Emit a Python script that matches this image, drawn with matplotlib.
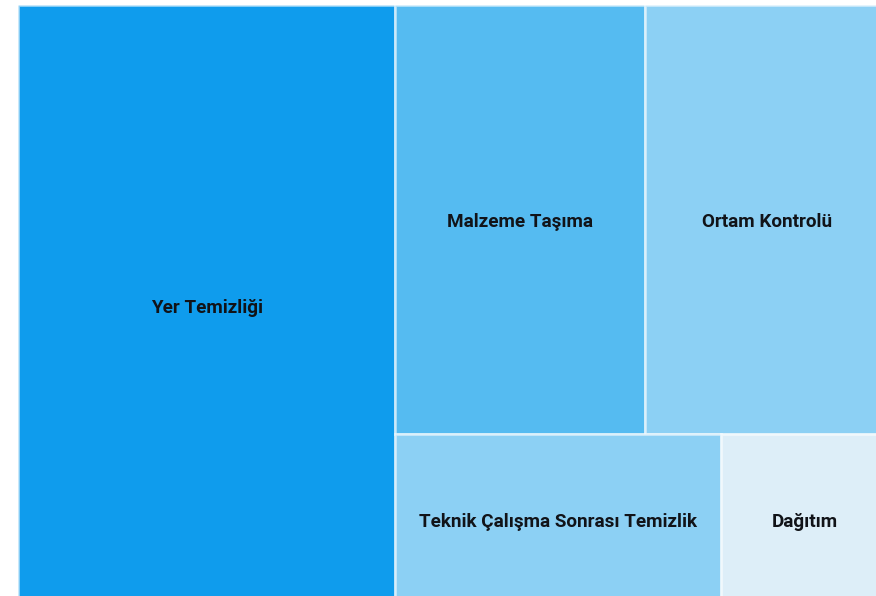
import matplotlib
matplotlib.use("Agg")
import matplotlib.pyplot as plt
from matplotlib.patches import Rectangle

categories = ["Yer Temizliği", "Malzeme Taşıma", "Ortam Kontrolü",
              "Teknik Çalışma Sonrası Temizlik", "Dağıtım"]
values = [43.3, 20.5, 20.0, 10.7, 5.5]
colors = ["#0f9ced", "#55bbf1", "#8cd0f4", "#8cd0f4", "#ddeef8"]

W, H = 871.0, 600.0


def worst(row, length):
    s = sum(row)
    side = s / length
    return max(max(side / (r / side), (r / side) / side) for r in row)


def layout_row(row, x, y, w, h, out):
    s = sum(row)
    if w >= h:
        cw = s / h
        cy = y
        for r in row:
            rh = r / cw
            out.append((x, cy, cw, rh))
            cy += rh
        return x + cw, y, w - cw, h
    else:
        rh = s / w
        cx = x
        for r in row:
            rw = r / rh
            out.append((cx, y, rw, rh))
            cx += rw
        return x, y + rh, w, h - rh


def squarify(vals, x, y, w, h):
    total = sum(vals)
    areas = [v * w * h / total for v in vals]
    out = []
    row = []
    i = 0
    while i < len(areas):
        length = min(w, h)
        a = areas[i]
        if not row or worst(row + [a], length) <= worst(row, length):
            row.append(a)
            i += 1
        else:
            x, y, w, h = layout_row(row, x, y, w, h, out)
            row = []
    if row:
        layout_row(row, x, y, w, h, out)
    return out


rects = squarify(values, 0, 0, W, H)

fig = plt.figure(figsize=(8.76, 5.96), dpi=100)
ax = fig.add_axes([18 / 876, -9 / 596, W / 876, H / 596])
ax.set_xlim(0, W)
ax.set_ylim(H, 0)
ax.axis("off")

for (x, y, w, h), c, lab in zip(rects, colors, categories):
    ax.add_patch(Rectangle((x, y), w, h, facecolor=c,
                           edgecolor=(1, 1, 1, 0.55), linewidth=2))
    ax.text(x + w / 2, y + h / 2 + 3, lab, ha="center", va="center",
            fontsize=13.6, fontweight="bold", family=["Roboto", "DejaVu Sans"],
            color="#111318")

fig.savefig("out.png", dpi=100)
